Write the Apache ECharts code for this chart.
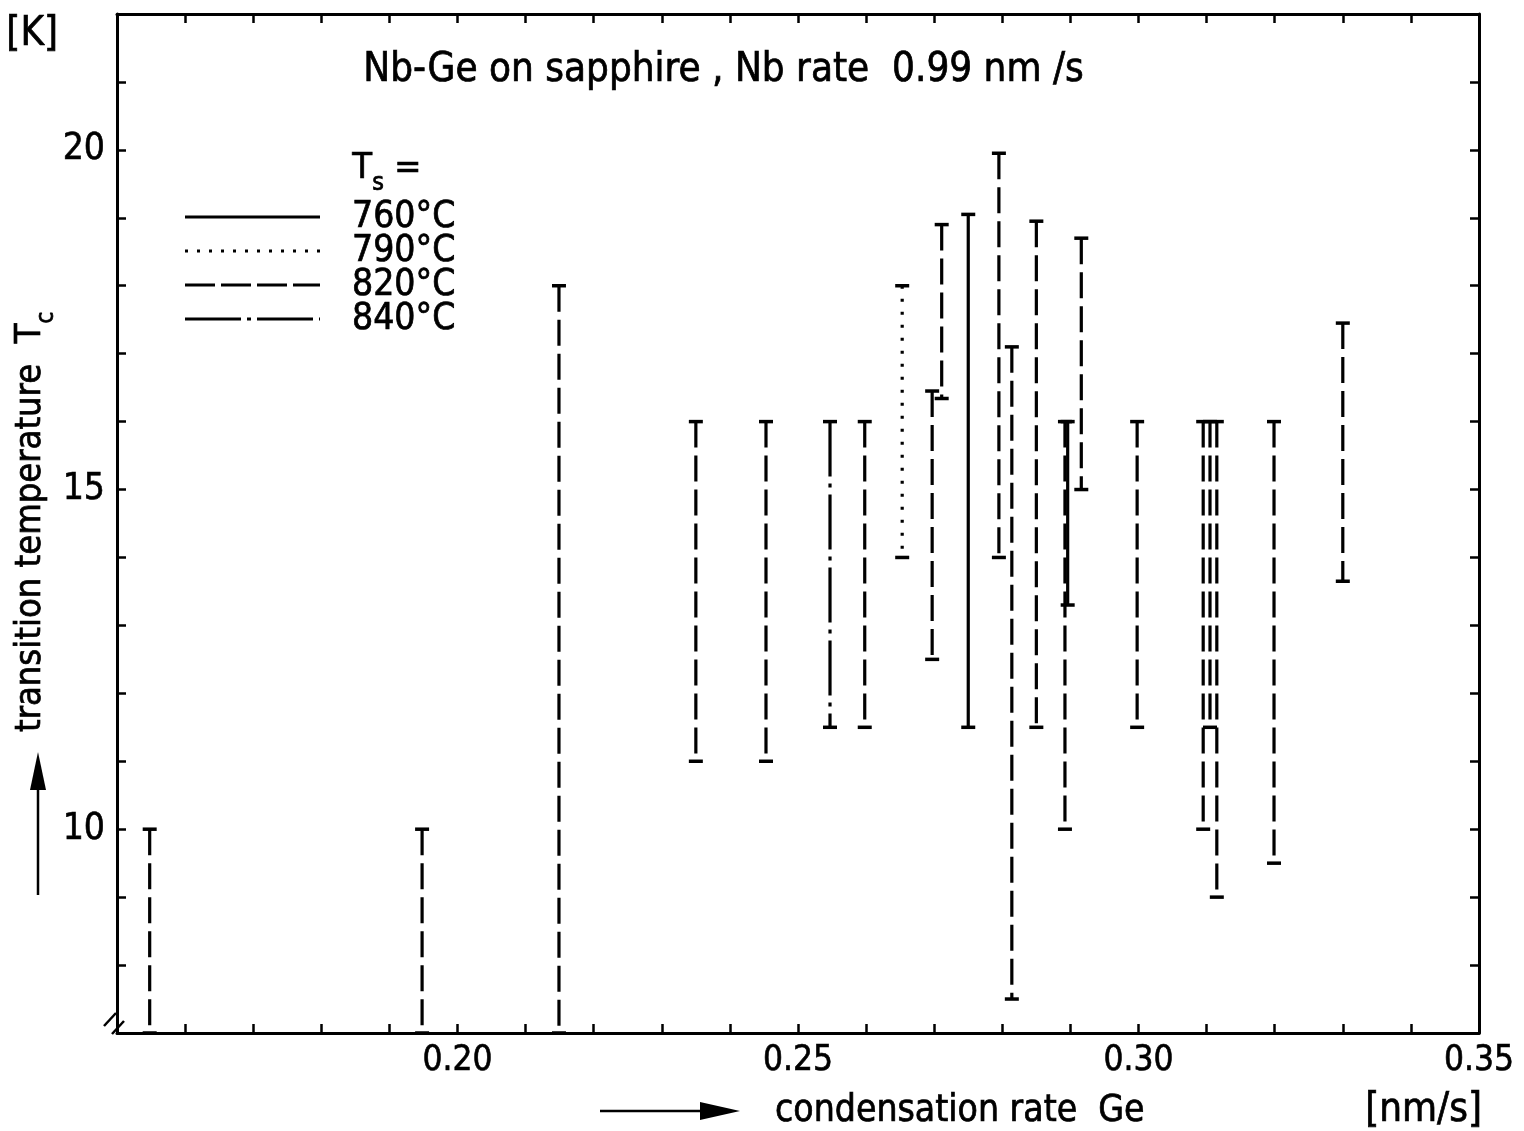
<!DOCTYPE html>
<html>
<head>
<meta charset="utf-8">
<script src="https://cdn.jsdelivr.net/npm/echarts@6/dist/echarts.min.js"></script>
<style>
html, body { margin: 0; padding: 0; background: #fff; }
#chart { width: 1524px; height: 1131px; }
</style>
</head>
<body>
<div id="chart"></div>
<script>
// Ts = 760 C (solid)
const rate760 = [0.275, 0.2896]
const low760 = [11.5, 13.3]
const high760 = [19.05, 16.0]

// Ts = 790 C (dotted)
const rate790 = [0.2653]
const low790 = [14.0]
const high790 = [18.0]

// Ts = 820 C (dashed)
const rate820 = [0.1548, 0.1948, 0.2149, 0.235, 0.2453, 0.2598, 0.2697, 0.2711, 0.2795, 0.2814, 0.285, 0.2892, 0.2916, 0.2998, 0.3095, 0.3105, 0.3115, 0.3199, 0.33]
const low820 = [7, 7, 7, 11, 11, 11.5, 12.5, 16.34, 14.0, 7.5, 11.5, 10.0, 15.0, 11.5, 10.0, 11.5, 9.0, 9.5, 13.65]
const high820 = [10, 10, 18, 16, 16, 16, 16.45, 18.9, 19.95, 17.1, 18.95, 16, 18.7, 16, 16, 16, 16, 16, 17.45]

// Ts = 840 C (dash-dot)
const rate840 = [0.2547]
const low840 = [11.5]
const high840 = [16]

const xTickLabels = ['0.20', '0.25', '0.30', '0.35']
const yTickLabels = [10, 15, 20]
const legendNames = ['760°C', '790°C', '820°C', '840°C']
const legendDash = [null, [3, 9], [30, 6], [56, 6, 4, 6]]
const barDash = [null, [3, 10], [26, 8], [55, 7, 4, 7]]

const FONT = '"DejaVu Sans Condensed", "DejaVu Sans", sans-serif'
const chart = echarts.init(document.getElementById('chart'))

function toData(rate, low, high) {
    return rate.map((r, i) => [r, low[i], high[i]])
}

// error bar = vertical line + two caps
function makeRenderItem(dash) {
    return function (params, api) {
        let x = api.value(0)
        let top = api.coord([x, api.value(2)])
        let bot = api.coord([x, api.value(1)])
        let cap = 7
        return {
            type: 'group',
            children: [
                {
                    type: 'line',
                    shape: { x1: top[0], y1: top[1], x2: bot[0], y2: bot[1] },
                    style: { stroke: '#000', lineWidth: 3.2, lineDash: dash || null },
                },
                {
                    type: 'line',
                    shape: { x1: top[0] - cap, y1: top[1], x2: top[0] + cap, y2: top[1] },
                    style: { stroke: '#000', lineWidth: 3.5 },
                },
                {
                    type: 'line',
                    shape: { x1: bot[0] - cap, y1: bot[1], x2: bot[0] + cap, y2: bot[1] },
                    style: { stroke: '#000', lineWidth: 3.5 },
                },
            ],
        }
    }
}

// slightly heavier text, like the plotter lettering
function txt(extra) {
    return Object.assign({ fontFamily: FONT, fill: '#000', stroke: '#000', lineWidth: 0.7 }, extra)
}

const axisLine = { show: true, lineStyle: { color: '#000', width: 3 } }
const axisTick = { show: true, inside: true, length: 9, lineStyle: { color: '#000', width: 2.5 } }

// legend drawn by hand
let legendGraphics = [
    {
        type: 'text', left: 352, top: 150,
        style: {
            text: '{t|T}{s|s}{t| =}',
            rich: {
                t: txt({ fontSize: 36, verticalAlign: 'top', lineHeight: 46 }),
                s: txt({ fontSize: 25, verticalAlign: 'bottom', lineHeight: 30 }),
            },
        },
    },
]
legendNames.forEach((name, i) => {
    let y = 217 + i * 34
    legendGraphics.push({
        type: 'line',
        shape: { x1: 185, y1: y, x2: 320, y2: y },
        style: { stroke: '#000', lineWidth: 3, lineDash: legendDash[i] },
    })
    legendGraphics.push({
        type: 'text', x: 352, y: y,
        style: txt({ text: name, fontSize: 37, verticalAlign: 'middle' }),
    })
})

let option = {
    backgroundColor: '#fff',
    animation: false,
    grid: { left: 117, right: 45, top: 14, bottom: 98 },
    xAxis: [
        {
            type: 'value', position: 'bottom', min: 0.15, max: 0.35, interval: 0.01,
            axisLine: axisLine, axisTick: axisTick, splitLine: { show: false },
            axisLabel: {
                margin: 10, color: '#000', fontSize: 35,
                fontFamily: '"Liberation Sans Narrow", "DejaVu Sans Condensed", sans-serif',
                textBorderColor: '#000', textBorderWidth: 0.6,
                formatter: function (v) {
                    let s = v.toFixed(2)
                    return xTickLabels.includes(s) ? s : ''
                },
            },
        },
        {
            type: 'value', position: 'top', min: 0.15, max: 0.35, interval: 0.01,
            axisLine: axisLine, axisTick: axisTick, splitLine: { show: false },
            axisLabel: { show: false },
        },
    ],
    yAxis: [
        {
            type: 'value', position: 'left', min: 7, max: 22, interval: 1,
            axisLine: axisLine, axisTick: axisTick, splitLine: { show: false },
            axisLabel: {
                margin: 12, color: '#000', fontSize: 37, fontFamily: FONT,
                textBorderColor: '#000', textBorderWidth: 0.6,
                formatter: function (v) {
                    return yTickLabels.includes(Math.round(v)) ? String(Math.round(v)) : ''
                },
            },
        },
        {
            type: 'value', position: 'right', min: 7, max: 22, interval: 1,
            axisLine: axisLine, axisTick: axisTick, splitLine: { show: false },
            axisLabel: { show: false },
        },
    ],
    series: [
        { type: 'custom', name: legendNames[0], renderItem: makeRenderItem(barDash[0]), data: toData(rate760, low760, high760), encode: { x: 0, y: [1, 2] } },
        { type: 'custom', name: legendNames[1], renderItem: makeRenderItem(barDash[1]), data: toData(rate790, low790, high790), encode: { x: 0, y: [1, 2] } },
        { type: 'custom', name: legendNames[2], renderItem: makeRenderItem(barDash[2]), data: toData(rate820, low820, high820), encode: { x: 0, y: [1, 2] } },
        { type: 'custom', name: legendNames[3], renderItem: makeRenderItem(barDash[3]), data: toData(rate840, low840, high840), encode: { x: 0, y: [1, 2] } },
    ],
    graphic: [
        // [K]
        { type: 'text', left: 6, top: 14, style: txt({ text: '[K]', fontSize: 40 }) },
        // title
        {
            type: 'text', left: 363, top: 50,
            style: txt({ text: 'Nb-Ge on sapphire , Nb rate  0.99 nm /s', fontSize: 40 }),
        },
        // y name, rotated
        {
            type: 'text', x: 36, y: 732, rotation: Math.PI / 2,
            style: {
                text: '{t|transition temperature  T}{s|c}',
                align: 'left', verticalAlign: 'middle',
                rich: {
                    t: txt({ fontSize: 36, verticalAlign: 'top', lineHeight: 46 }),
                    s: txt({ fontSize: 24, verticalAlign: 'bottom', lineHeight: 28 }),
                },
            },
        },
        // y arrow
        { type: 'line', shape: { x1: 38, y1: 895, x2: 38, y2: 785 }, style: { stroke: '#000', lineWidth: 2.5 } },
        { type: 'polygon', shape: { points: [[38, 752], [30, 790], [46, 790]] }, style: { fill: '#000' } },
        // x arrow
        { type: 'line', shape: { x1: 600, y1: 1111, x2: 705, y2: 1111 }, style: { stroke: '#000', lineWidth: 2.5 } },
        { type: 'polygon', shape: { points: [[740, 1111], [700, 1102], [700, 1120]] }, style: { fill: '#000' } },
        // x name
        {
            type: 'text', x: 775, y: 1111,
            style: txt({ text: 'condensation rate  Ge', fontSize: 37, verticalAlign: 'middle' }),
        },
        {
            type: 'text', x: 1482, y: 1111,
            style: txt({ text: '[nm/s]', fontSize: 40, align: 'right', verticalAlign: 'middle' }),
        },
        // axis break marks
        { type: 'line', shape: { x1: 104, y1: 1026, x2: 116, y2: 1013 }, style: { stroke: '#000', lineWidth: 2.5 } },
        { type: 'line', shape: { x1: 112, y1: 1034, x2: 124, y2: 1021 }, style: { stroke: '#000', lineWidth: 2.5 } },
    ].concat(legendGraphics),
}

chart.setOption(option)
</script>
</body>
</html>
